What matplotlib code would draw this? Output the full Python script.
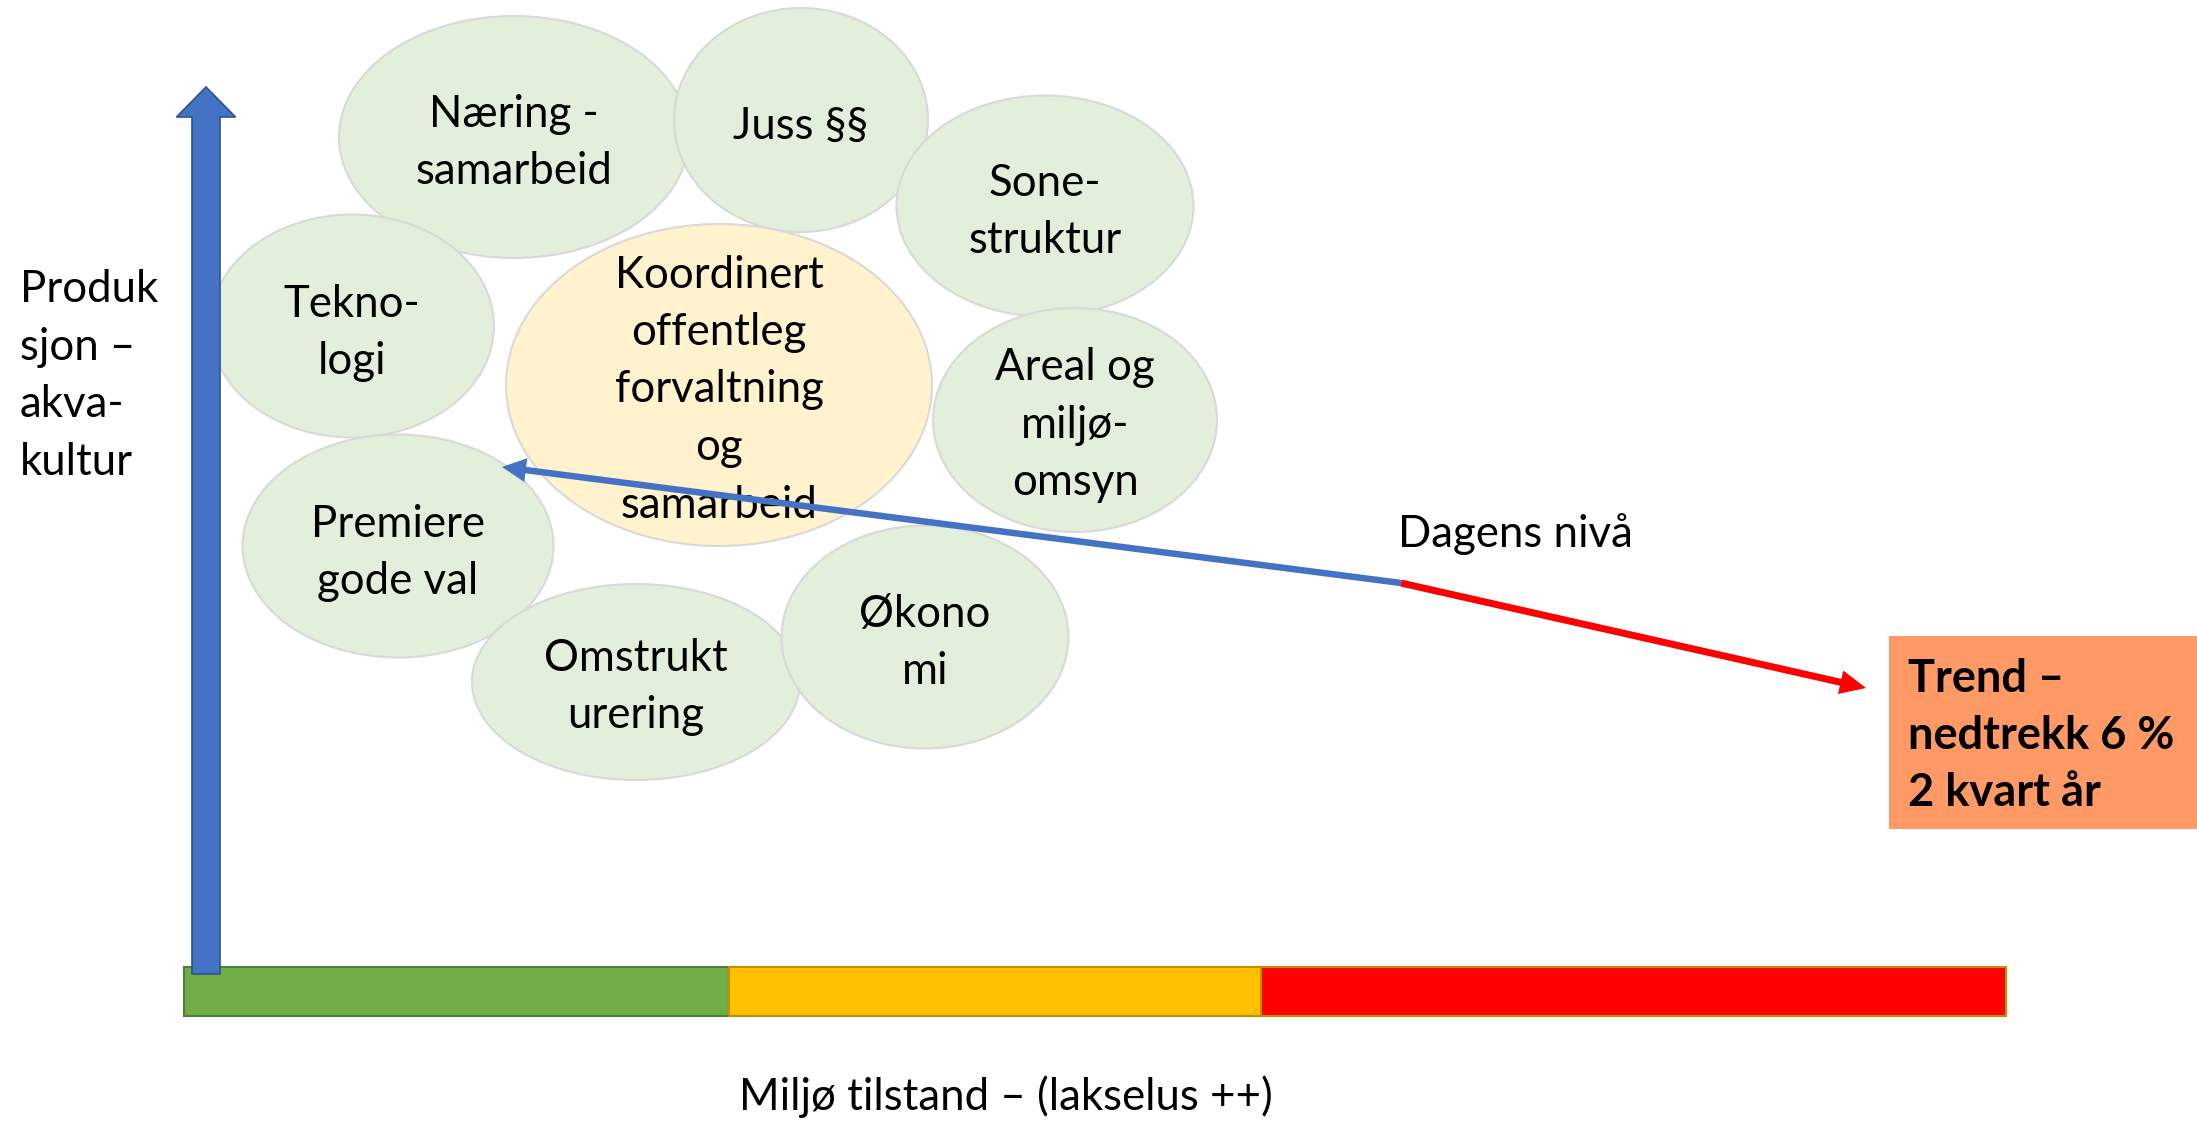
import matplotlib
matplotlib.use("Agg")
import matplotlib.pyplot as plt
from matplotlib.patches import Ellipse, Rectangle, FancyArrow

plt.rcParams['font.family'] = ['Lato', 'DejaVu Sans']

W, H = 2197, 1125

# ---- data ----
bubble_labels = [
    ["Næring -", "samarbeid"],
    ["Juss §§"],
    ["Sone-", "struktur"],
    ["Tekno-", "logi"],
    ["Koordinert", "offentleg", "forvaltning", "og", "samarbeid"],
    ["Areal og", "miljø-", "omsyn"],
    ["Premiere", "gode val"],
    ["Omstrukt", "urering"],
    ["Økono", "mi"],
]
bubble_x = [514, 801, 1045, 352, 719, 1075, 398, 636, 925]
bubble_y = [137, 120, 206, 326, 385, 420, 546, 682, 637]
bubble_w = [350, 254, 297, 284, 426, 284, 311, 328, 287]
bubble_h = [242, 224, 221, 223, 322, 224, 223, 196, 223]
label_y = [143, 126, 212, 333, 390, 425, 553, 687, 643]
bubble_colors = ["#E2EFDA"] * 4 + ["#FFF2CC"] + ["#E2EFDA"] * 4

zone_names = ["god", "moderat", "dårleg"]
zone_edges = [184, 729, 1261, 2006]
zone_colors = ["#70AD47", "#FFC000", "#FF0000"]
zone_edgecolors = ["#507E32", "#BF9000", "#BF9000"]

y_label = ["Produk", "sjon –", "akva-", "kultur"]
x_label = "Miljø tilstand – (lakselus ++)"
now_label = "Dagens nivå"
trend_label = ["Trend –", "nedtrekk 6 %", "2 kvart år"]

# path: past position (arrow tip) <- today -> trend
past_pt = (502, 467)
today_pt = (1401, 583)
trend_pt = (1866, 688)

fig = plt.figure(figsize=(W / 100, H / 100), dpi=100)
ax = fig.add_axes([0, 0, 1, 1])
ax.set_xlim(0, W)
ax.set_ylim(H, 0)
ax.axis("off")

FS = 31.5
PITCH = 57.5


def block(x, cy, lines, ha="center", fs=FS, **kw):
    n = len(lines)
    for k, s in enumerate(lines):
        ax.text(x, cy + (k - (n - 1) / 2) * PITCH, s, ha=ha, va="center",
                fontsize=fs, color="black", zorder=3, **kw)


# bubbles
for cx, cy, w, h, c in zip(bubble_x, bubble_y, bubble_w, bubble_h, bubble_colors):
    ax.add_patch(Ellipse((cx, cy), w, h, facecolor=c, edgecolor="#D9D9D9",
                         lw=1.5, zorder=2))
for cx, ly, lines in zip(bubble_x, label_y, bubble_labels):
    block(cx, ly, lines)

# environment state bar
for i in range(len(zone_names)):
    ax.add_patch(Rectangle((zone_edges[i], 967), zone_edges[i + 1] - zone_edges[i], 49,
                           facecolor=zone_colors[i], edgecolor=zone_edgecolors[i],
                           lw=1.5, zorder=1))

# vertical production arrow
ax.add_patch(FancyArrow(206, 974, 0, 87 - 974, width=28, head_width=59,
                        head_length=30, length_includes_head=True,
                        facecolor="#4472C4", edgecolor="#2F528F", lw=1.2, zorder=5))

# blue arrow: today -> past
ax.add_patch(FancyArrow(today_pt[0], today_pt[1], past_pt[0] - today_pt[0],
                        past_pt[1] - today_pt[1], width=6.5, head_width=24,
                        head_length=24, length_includes_head=True,
                        facecolor="#4472C4", edgecolor="none", zorder=4))
# red arrow: today -> trend
ax.add_patch(FancyArrow(today_pt[0], today_pt[1], trend_pt[0] - today_pt[0],
                        trend_pt[1] - today_pt[1], width=7, head_width=24,
                        head_length=26, length_includes_head=True,
                        facecolor="#FF0000", edgecolor="none", zorder=4))

# trend box
ax.add_patch(Rectangle((1889, 636), W - 1889, 193, facecolor="#FF9966",
                       edgecolor="none", zorder=2))
block(1908, 736, trend_label, ha="left", fs=32.5, fontweight="bold")

# texts
block(20, 376, y_label, ha="left")
ax.text(1515, 534, now_label, ha="center", va="center", fontsize=FS, zorder=3)
ax.text(1006, 1097, x_label, ha="center", va="center", fontsize=FS, zorder=3)

# cropped title glyph at the very top (only its descender shows)
ax.text(1537, -20, "g", ha="center", va="baseline", fontsize=60, zorder=3)

fig.savefig("out.png", dpi=100)
